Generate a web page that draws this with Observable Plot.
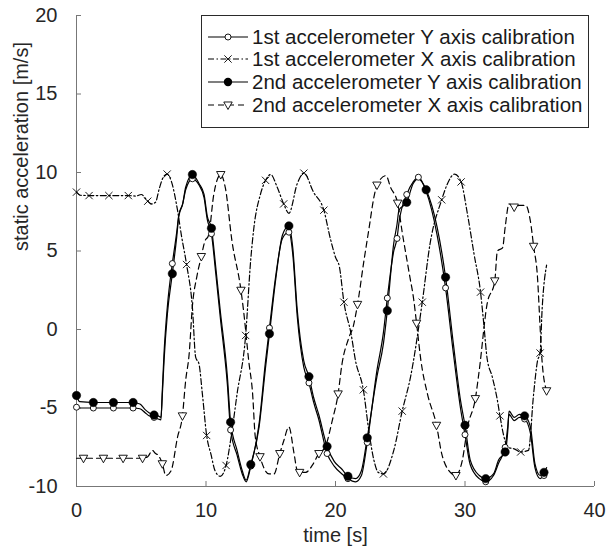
<!DOCTYPE html>
<html><head><meta charset="utf-8">
<script src="https://cdn.jsdelivr.net/npm/d3@7"></script>
<script src="https://cdn.jsdelivr.net/npm/@observablehq/plot@0.6"></script>
<style>
body{margin:0;background:#fff;}
#wrap{position:relative;width:610px;height:551px;font-family:"Liberation Sans",Arial,Helvetica,sans-serif;}
#legend{position:absolute;left:201px;top:15px;width:388px;height:113px;border:1px solid #2a2a2a;background:#fff;box-sizing:border-box;}
.row{position:absolute;left:0;height:22px;width:385px;}
.row svg{position:absolute;left:5px;top:0;}
.row span{position:absolute;left:50px;top:0;line-height:22px;font-size:20.5px;color:#1a1a1a;white-space:nowrap;}
</style></head><body><div id="wrap"></div>
<script>
// ---- axis ticks ----
const xTicks = [0, 10, 20, 30, 40];
const yTicks = [-10, -5, 0, 5, 10, 15, 20];
const xLabel = "time [s]";
const yLabel = "static acceleration [m/s]";
const seriesNames = [
  "1st accelerometer Y axis calibration",
  "1st accelerometer X axis calibration",
  "2nd accelerometer Y axis calibration",
  "2nd accelerometer X axis calibration"
];

// ---- Y-axis calibration series (shared time base) ----
const tY = [0,0.25,1.3,2.85,4.37,4.9,5.3,5.6,5.99,6.3,6.52,6.62,6.76,7.02,7.4,7.74,7.9,8.2,8.43,8.95,9.46,9.85,10.1,10.42,10.75,11.1,11.65,11.9,12.4,12.8,13.1,13.46,14.1,14.6,14.9,15.4,15.9,16.4,16.7,17.05,17.55,17.95,18.3,18.7,19.35,19.9,20.5,20.96,21.55,22.0,22.45,23.2,23.7,24.0,24.5,24.75,24.9,25.5,26.0,26.4,27.0,27.85,28.5,29.1,29.65,30.0,30.4,31.1,31.6,32.2,32.6,33.1,33.3,33.4,33.8,34.2,34.6,35.05,35.4,35.8,36.1,36.3];
const acc1Y = [-4.95,-5.0,-5.0,-5.0,-5.0,-5.05,-5.3,-5.5,-5.6,-5.7,-5.75,-4.0,-1.5,1.5,4.2,6.2,7.3,8.0,8.9,9.6,9.2,8.4,7.0,6.1,3.6,0.8,-3.5,-6.4,-8.0,-9.2,-9.7,-8.7,-6.0,-2.0,0.1,3.5,5.8,6.2,4.8,0.8,-2.4,-3.4,-4.6,-5.7,-7.9,-8.7,-9.2,-9.5,-9.7,-9.3,-7.2,-2.6,-0.2,2.0,5.0,5.8,6.8,8.6,9.4,9.7,8.8,6.0,2.65,-1.5,-5.0,-6.7,-8.6,-9.5,-9.7,-9.3,-8.5,-7.5,-6.2,-5.4,-5.8,-5.6,-5.7,-6.6,-8.8,-9.5,-9.3,-9.0];
const acc2Y = [-4.2,-4.6,-4.65,-4.65,-4.65,-4.75,-5.1,-5.3,-5.45,-5.5,-5.6,-4.3,-2.0,1.0,3.55,5.9,7.2,8.0,9.06,9.87,9.3,8.6,7.2,6.45,4.0,1.2,-3.0,-5.9,-7.7,-9.0,-9.6,-8.6,-6.2,-2.4,-0.27,3.3,6.0,6.6,5.2,1.2,-2.0,-3.0,-4.3,-5.4,-7.45,-8.4,-8.9,-9.35,-9.5,-9.0,-6.9,-3.0,-0.9,1.2,5.5,6.7,7.6,8.1,9.3,9.6,8.9,6.5,3.33,-0.9,-4.5,-6.1,-8.3,-9.3,-9.5,-9.2,-8.3,-7.8,-6.5,-5.2,-5.6,-5.4,-5.5,-6.2,-8.55,-9.3,-9.1,-8.8];
const acc2YMarkT = [0,1.3,2.85,4.37,5.99,7.4,8.95,10.42,11.9,13.46,14.9,16.4,17.95,19.35,20.96,22.45,24.0,25.5,27.0,28.5,30.0,31.6,33.1,34.6,36.1];
const acc1YMarkT = [0,1.3,2.85,4.37,5.99,7.4,8.95,10.42,11.9,13.46,14.9,16.4,17.95,19.35,20.96,22.45,24.0,24.75,25.5,26.4,28.5,30.0,31.6,33.1,34.6,36.1];

// ---- 1st accelerometer X axis ----
const t1X = [0,0.3,0.97,2.5,4.0,4.6,5.0,5.5,5.8,6.1,6.4,6.7,7.0,7.3,7.8,8.1,8.5,8.95,9.2,9.46,9.72,10.05,10.4,10.7,11.1,11.55,12.0,12.4,13.06,13.45,13.7,14.2,14.6,15.0,15.5,16.0,16.4,17.05,17.56,18.3,19.1,19.6,20.0,20.3,20.65,21.2,21.55,22.15,22.6,22.96,23.3,23.7,24.5,25.15,25.8,26.7,27.3,28.2,28.6,29.2,29.7,30.2,30.7,31.2,31.45,31.7,32.1,32.5,32.7,33.0,33.3,33.8,34.3,34.9,35.3,35.6,35.8,35.95,36.3];
const acc1X = [8.75,8.55,8.53,8.53,8.53,8.5,8.6,8.17,8.0,8.1,9.0,9.7,9.9,9.5,7.6,6.0,4.14,1.4,-1.76,-2.2,-4.1,-6.75,-8.0,-9.0,-9.35,-8.66,-6.5,-4.1,-0.38,4.4,6.5,8.6,9.5,9.87,9.06,8.0,7.4,9.3,9.96,8.75,7.6,5.8,4.6,4.0,1.74,-0.27,-2.0,-3.84,-6.6,-8.3,-9.1,-9.2,-7.7,-5.2,-3.0,1.74,5.46,8.26,9.2,9.9,9.4,7.3,4.8,2.38,0.36,-1.8,-3.0,-4.5,-5.5,-6.8,-7.5,-7.6,-7.8,-7.7,-4.1,-2.0,-1.5,1.2,4.1];
const acc1XMarkT = [0,0.97,2.5,4.0,5.5,7.0,8.5,10.05,11.55,13.06,14.6,16.0,17.56,19.1,20.65,22.15,23.7,25.15,26.7,28.2,29.7,31.2,32.7,34.3,35.8];

// ---- 2nd accelerometer X axis ----
const t2X = [0,0.54,2.08,3.6,5.1,5.5,5.86,6.1,6.3,6.63,6.9,7.3,7.8,8.18,8.43,8.7,8.95,9.3,9.64,9.9,10.2,10.6,11.14,11.5,12.0,12.7,12.9,13.3,13.6,13.8,14.17,14.86,15.25,15.7,16.0,16.4,16.8,17.05,17.23,17.7,18.2,18.72,19.2,19.75,20.2,20.5,21.0,21.4,21.7,22.2,22.6,22.96,23.2,23.9,24.25,24.8,25.15,25.7,26.05,26.26,26.6,27.1,27.8,28.2,28.6,29.3,29.8,30.2,30.8,31.1,31.7,32.3,32.5,32.9,33.1,33.4,33.8,34.2,34.7,35.05,35.3,35.6,35.8,35.95,36.3];
const acc2X = [-8.2,-8.2,-8.2,-8.2,-8.2,-8.1,-7.7,-7.9,-8.0,-8.55,-9.3,-9.0,-6.86,-5.5,-3.25,-1.55,1.5,3.4,4.65,5.6,6.0,8.6,9.87,9.0,5.67,2.5,1.2,-2.0,-4.1,-6.8,-8.1,-9.2,-9.2,-7.9,-7.1,-6.2,-7.9,-9.0,-9.1,-9.1,-8.66,-7.9,-7.5,-5.8,-4.1,-2.2,-0.6,0.3,1.6,4.4,6.5,8.4,9.2,9.8,9.06,8.05,6.2,3.55,1.85,0.4,-2.0,-4.1,-6.1,-7.9,-8.8,-9.3,-8.3,-6.2,-4.4,-2.6,1.6,3.1,5.0,5.2,6.5,8.0,7.8,7.9,7.9,6.9,5.3,3.3,0.15,-2.0,-3.9];
const acc2XMarkT = [0.54,2.08,3.6,5.1,6.63,8.18,9.64,11.14,12.7,14.17,15.7,17.23,18.72,20.2,21.7,23.2,24.8,26.26,27.8,29.3,30.8,32.3,33.8,35.3,36.3];

// ---- build tables ----
const toRows = (ts, vs) => ts.map((t, i) => ({t, v: vs[i]}));
const pick = (rows, marks) => rows.filter(r => marks.some(m => Math.abs(m - r.t) < 1e-6));
const rA = toRows(tY, acc1Y), rB = toRows(t1X, acc1X), rC = toRows(tY, acc2Y), rD = toRows(t2X, acc2X);

const triDown = {draw(ctx, size) {
  const r = Math.sqrt(size / Math.PI);
  ctx.moveTo(0, r * 1.05); ctx.lineTo(-r * 0.98, -r * 0.7); ctx.lineTo(r * 0.98, -r * 0.7); ctx.closePath();
}};

const ink = "#000";
const axisInk = "#777";
const labelInk = "#262626";
const FONT = '"Liberation Sans", Arial, Helvetica, sans-serif';
const FS = 20;
const lineOpt = {x: "t", y: "v", stroke: ink, strokeWidth: 1.2, curve: "monotone-x"};

const chart = Plot.plot({
  width: 610, height: 551,
  marginLeft: 76, marginRight: 16, marginTop: 15, marginBottom: 65,
  x: {domain: [xTicks[0], xTicks[xTicks.length - 1]]},
  y: {domain: [yTicks[0], yTicks[yTicks.length - 1]]},
  style: {fontFamily: FONT, fontSize: FS + "px", color: labelInk, background: "white", overflow: "visible"},
  marks: [
    Plot.ruleX([xTicks[0]], {stroke: axisInk, strokeWidth: 1}),
    Plot.ruleY([yTicks[0]], {stroke: axisInk, strokeWidth: 1}),
    Plot.axisX({ticks: xTicks, tickSize: -5, tickPadding: 21, tickFormat: d => String(d), label: null, stroke: axisInk, fill: labelInk, fontSize: FS}),
    Plot.axisY({ticks: yTicks, tickSize: -5, tickPadding: 24, tickFormat: d => String(d), label: null, stroke: axisInk, fill: labelInk, fontSize: FS}),
    Plot.line(rD, {...lineOpt, strokeDasharray: "6,4"}),
    Plot.line(rB, {...lineOpt, strokeDasharray: "6,2.5,1.5,2.5"}),
    Plot.line(rA, lineOpt),
    Plot.line(rC, lineOpt),
    Plot.dot(pick(rD, acc2XMarkT), {x: "t", y: "v", symbol: triDown, r: 4.3, stroke: ink, fill: "white", strokeWidth: 0.9}),
    Plot.dot(pick(rB, acc1XMarkT), {x: "t", y: "v", symbol: "times", r: 3.4, stroke: ink, strokeWidth: 0.9}),
    Plot.dot(pick(rA, acc1YMarkT), {x: "t", y: "v", symbol: "circle", r: 3, stroke: ink, fill: "white", strokeWidth: 0.9}),
    Plot.dot(pick(rC, acc2YMarkT), {x: "t", y: "v", symbol: "circle", r: 4.2, fill: ink, stroke: ink, strokeWidth: 0.5}),
    Plot.text([xLabel], {text: d => d, frameAnchor: "bottom", dy: 55, fontSize: FS, fill: labelInk}),
    Plot.text([yLabel], {text: d => d, frameAnchor: "left", rotate: -90, dx: -55, fontSize: FS, fill: labelInk})
  ]
});

const wrap = document.getElementById("wrap");
wrap.appendChild(chart);

// ---- legend (HTML overlay) ----
const legend = document.createElement("div");
legend.id = "legend";
const rowTops = [10, 32, 55, 78];
const styles = [
  {dash: null, sym: "open"},
  {dash: "6,2.5,1.5,2.5", sym: "times"},
  {dash: null, sym: "filled"},
  {dash: "6,4", sym: "tri"}
];
seriesNames.forEach((name, i) => {
  const row = document.createElement("div");
  row.className = "row";
  row.style.top = rowTops[i] + "px";
  const svg = d3.create("svg").attr("width", 42).attr("height", 22);
  svg.append("line").attr("x1", 1).attr("x2", 41).attr("y1", 11).attr("y2", 11)
    .attr("stroke", ink).attr("stroke-width", 1.2).attr("stroke-dasharray", styles[i].dash);
  const g = svg.append("g").attr("transform", "translate(21,11)");
  const s = styles[i].sym;
  if (s === "open") g.append("circle").attr("r", 3).attr("fill", "white").attr("stroke", ink).attr("stroke-width", 0.9);
  if (s === "filled") g.append("circle").attr("r", 4.2).attr("fill", ink);
  if (s === "times") g.append("path").attr("d", d3.symbol(d3.symbolTimes, Math.PI * 3.4 * 3.4)()).attr("stroke", ink).attr("fill", "none").attr("stroke-width", 0.9);
  if (s === "tri") {
    const p = d3.path(); triDown.draw(p, Math.PI * 4.3 * 4.3);
    g.append("path").attr("d", p.toString()).attr("fill", "white").attr("stroke", ink).attr("stroke-width", 0.9);
  }
  row.appendChild(svg.node());
  const span = document.createElement("span");
  span.textContent = name;
  row.appendChild(span);
  legend.appendChild(row);
});
wrap.appendChild(legend);
</script></body></html>
